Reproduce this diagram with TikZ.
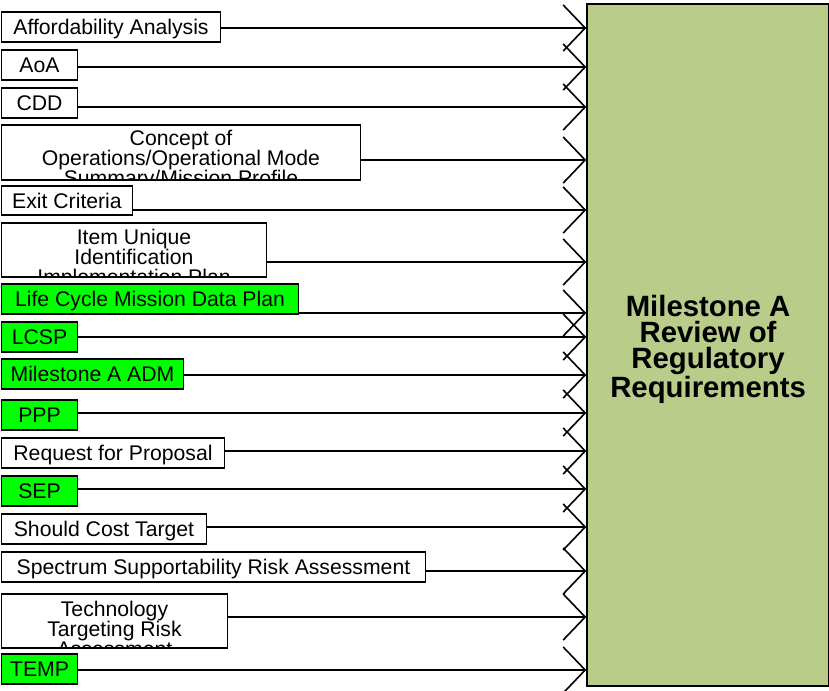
\documentclass[tikz,border=0pt]{standalone}
\usepackage{fontspec}
\setmainfont{Liberation Sans}
\usetikzlibrary{arrows.meta}
\definecolor{docgreen}{RGB}{0,255,0}
\definecolor{reqgreen}{RGB}{185,204,137}

\begin{document}
\begin{tikzpicture}[x=0.75pt,y=-0.75pt,
    boxwh/.style 2 args={minimum width=#1*0.75pt,minimum height=#2*0.75pt},
    doc/.style={draw,line width=1.4pt,fill=white,inner sep=0pt,outer sep=0pt,anchor=north west},
    oneline/.style={doc,font=\fontsize{15.9}{15}\selectfont,text height=14.6pt,text depth=3.2pt},
    greendoc/.style={oneline,fill=docgreen},
    lines/.style={draw=none,fill=none,anchor=center,inner sep=0pt,align=center,font=\fontsize{15.9}{15}\selectfont},
    feed/.style={line width=1.2pt,-{Straight Barb[length=16.5pt,width=34.5pt,line join=round]}}]
  \useasboundingbox (0,0) rectangle (829,690);
  \node[draw,line width=1.6pt,fill=reqgreen,anchor=north west,boxwh={242}{682},inner sep=0pt,
    label={[align=center,yshift=-3pt,font=\bfseries\fontsize{22}{19.5}\selectfont]center:
    Milestone A\\Review of\\Regulatory\\Requirements}] (rev) at (586,3) {};
  \node[oneline,boxwh={219}{30}] (aff) at (1.5,12) {Affordability Analysis};
  \node[oneline,boxwh={76}{30}] (aoa) at (1.5,50) {AoA};
  \node[oneline,boxwh={76}{30}] (cdd) at (1.5,88) {CDD};
  \node[doc,boxwh={359}{55},path picture={\node[lines] at ([yshift=-5.6pt]path picture bounding box.center)
    {Concept of\\Operations/Operational Mode\\Summary/Mission Profile};}] (conops) at (1.5,125) {};
  \node[oneline,boxwh={131}{29}] (exit) at (1.5,186) {Exit Criteria};
  \node[doc,boxwh={265}{54},path picture={\node[lines] at ([yshift=-6.75pt]path picture bounding box.center)
    {Item Unique\\Identification\\Implementation Plan};}] (iuid) at (1.5,223) {};
  \node[greendoc,boxwh={297}{30}] (lcmdp) at (1.5,284) {Life Cycle Mission Data Plan};
  \node[greendoc,boxwh={76}{30}] (lcsp) at (1.5,322) {LCSP};
  \node[greendoc,boxwh={182}{30}] (adm) at (1.5,359) {Milestone A ADM};
  \node[greendoc,boxwh={76}{30}] (ppp) at (1.5,400) {PPP};
  \node[oneline,boxwh={223}{30}] (rfp) at (1.5,438) {Request for Proposal};
  \node[greendoc,boxwh={76}{30}] (sep) at (1.5,476) {SEP};
  \node[oneline,boxwh={205}{30}] (sct) at (1.5,514) {Should Cost Target};
  \node[oneline,boxwh={424}{30}] (ssra) at (1.5,552) {Spectrum Supportability Risk Assessment};
  \node[doc,boxwh={226}{54},path picture={\node[lines] at ([yshift=-6pt]path picture bounding box.center)
    {Technology\\Targeting Risk\\Assessment};}] (ttra) at (1.5,594) {};
  \node[greendoc,boxwh={76}{30}] (temp) at (1.5,654) {TEMP};
  \foreach \src/\yy in {aff/28,aoa/67,cdd/107,conops/160,exit/210,iuid/262,lcmdp/313,lcsp/337,
      adm/375,ppp/413,rfp/451,sep/489,sct/527,ssra/571,ttra/617,temp/670}
    \draw[feed] (\src.east |- 0,\yy) -- (rev.west |- 0,\yy);
\end{tikzpicture}
\end{document}
